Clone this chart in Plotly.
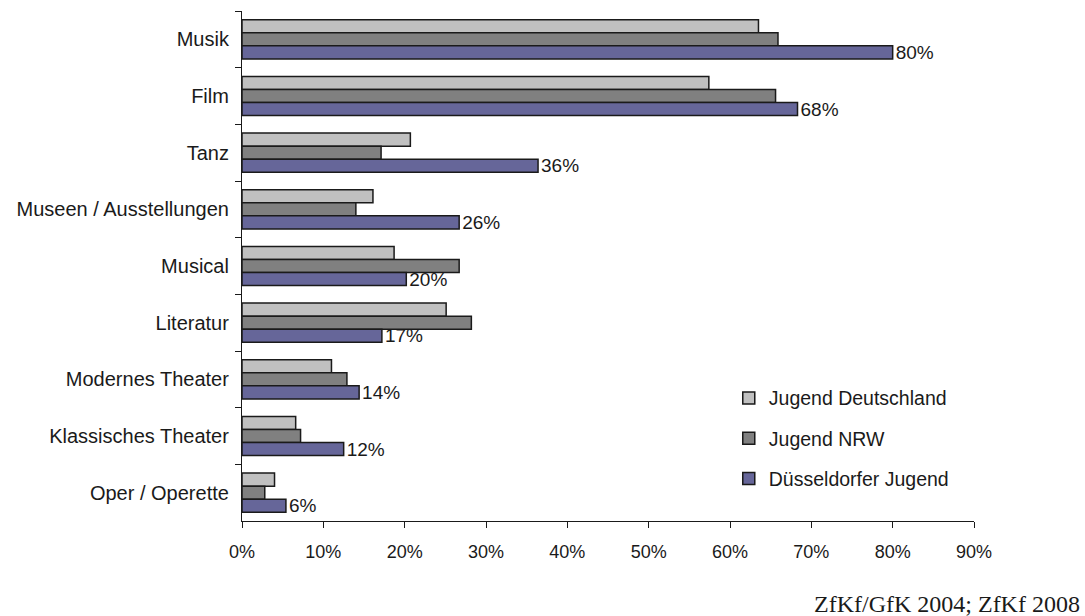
import plotly.graph_objects as go

categories = ["Musik", "Film", "Tanz", "Museen / Ausstellungen", "Musical",
              "Literatur", "Modernes Theater", "Klassisches Theater", "Oper / Operette"]
jugend_deutschland = [63.5, 57.4, 20.7, 16.1, 18.7, 25.1, 11.0, 6.6, 4.0]
jugend_nrw = [65.9, 65.6, 17.1, 14.0, 26.7, 28.2, 12.9, 7.2, 2.8]
duesseldorfer_jugend = [80.0, 68.3, 36.4, 26.7, 20.2, 17.2, 14.4, 12.5, 5.4]
duesseldorf_labels = ["80%", "68%", "36%", "26%", "20%", "17%", "14%", "12%", "6%"]
x_ticks = [0, 10, 20, 30, 40, 50, 60, 70, 80, 90]
x_tick_labels = [f"{t}%" for t in x_ticks]

FONT = "Liberation Sans, Arial, sans-serif"

fig = go.Figure()
series = [
    ("Jugend Deutschland", jugend_deutschland, "#C0C0C0", None),
    ("Jugend NRW", jugend_nrw, "#808080", None),
    ("Düsseldorfer Jugend", duesseldorfer_jugend, "#666699", duesseldorf_labels),
]
for name, vals, color, labels in series:
    fig.add_trace(go.Bar(
        y=categories, x=vals, name=name, orientation="h",
        marker=dict(color=color, line=dict(color="#1a1a1a", width=1.5)),
        text=labels, textposition="outside" if labels else "none",
        constraintext="none",
        textfont=dict(family=FONT, size=19, color="#1a1a1a"),
        cliponaxis=False, legendgroup=name,
    ))

fig.update_layout(
    width=1085, height=616,
    margin=dict(l=242, r=111, t=11, b=95),
    paper_bgcolor="white", plot_bgcolor="white",
    barmode="group", bargap=0.31, bargroupgap=0,
    font=dict(family=FONT, size=18, color="#1a1a1a"),
    showlegend=True,
    legend=dict(x=0.665, y=0.279, xanchor="left", yanchor="top",
                font=dict(family=FONT, size=19.5, color="#1a1a1a"),
                tracegroupgap=12, bgcolor="rgba(0,0,0,0)"),
    xaxis=dict(range=[0, 90], tickvals=x_ticks, ticktext=x_tick_labels,
               showgrid=False, zeroline=False, showline=True, linecolor="#1a1a1a",
               linewidth=1.2, ticks="outside", ticklen=6, tickcolor="#1a1a1a",
               ticklabelstandoff=8, tickfont=dict(family=FONT, size=18)),
    yaxis=dict(autorange="reversed", showgrid=False, showline=True, linecolor="#1a1a1a",
               linewidth=1.2, ticks="outside", ticklen=6, tickcolor="#1a1a1a",
               tickson="boundaries", ticklabelstandoff=8,
               tickfont=dict(family=FONT, size=20)),
)

fig.add_annotation(text="ZfKf/GfK 2004; ZfKf 2008", xref="paper", yref="paper",
                   x=1.0, xanchor="right", y=0, yanchor="top", yshift=-68, xshift=108,
                   showarrow=False,
                   font=dict(family="Liberation Serif, Times New Roman, serif", size=24,
                             color="#1a1a1a"))

fig.write_html("out.html")
